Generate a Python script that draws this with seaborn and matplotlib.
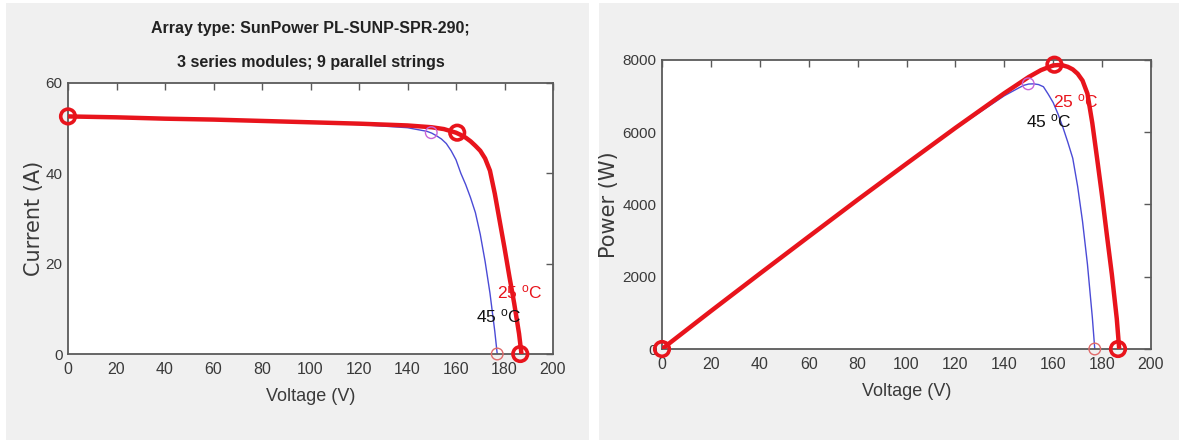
import matplotlib
matplotlib.use("Agg")
from matplotlib import pyplot as plt
from matplotlib.patches import Rectangle
import seaborn as sns

# I-V / P-V readings, 25 degC (thick red)
v_25 = [0, 20, 40, 60, 80, 100, 120, 140, 150, 155, 160, 162, 164, 166, 168, 170, 172,
        174, 176, 178, 180, 182, 184, 186, 187]
i_25 = [52.6, 52.4, 52.1, 51.9, 51.6, 51.3, 51.0, 50.6, 50.2, 49.8, 49.0, 48.5, 47.9, 47.1,
        46.1, 45.0, 43.3, 40.6, 35.5, 29.5, 23.5, 17.2, 11.2, 4.5, 0]
p_25 = [0, 1050, 2085, 3110, 4130, 5130, 6120, 7080, 7530, 7720, 7850, 7860, 7850, 7810,
        7740, 7620, 7430, 7070, 6250, 5250, 4230, 3130, 2060, 840, 0]

# 45 degC (thin blue)
v_45 = [0, 20, 40, 60, 80, 100, 120, 140, 146, 148, 150, 152, 154, 156, 158, 160, 162,
        164, 166, 168, 170, 172, 174, 176, 177]
i_45 = [52.8, 52.5, 52.2, 51.9, 51.6, 51.2, 50.8, 50.1, 49.5, 49.3, 48.9, 48.3, 47.6, 46.6,
        45.0, 43.0, 40.0, 37.5, 34.6, 31.3, 26.5, 20.5, 13.5, 5.0, 0]
p_45 = [0, 1050, 2090, 3115, 4130, 5120, 6100, 7010, 7230, 7300, 7335, 7340, 7320, 7260,
        7050, 6820, 6500, 6130, 5720, 5280, 4500, 3530, 2350, 880, 0]

# marked points (Isc / MPP / Voc)
mark_v_25 = [0, 160.5, 186.5]
mark_i_25 = [52.6, 49.0, 0]
mark_p_25 = [0, 7870, 0]
mark_v_45 = [149.8, 177]
mark_i_45 = [49.0, 0]
mark_p_45 = [7340, 0]

title_lines = ["Array type: SunPower PL-SUNP-SPR-290;", "3 series modules; 9 parallel strings"]
x_ticks = list(range(0, 201, 20))
i_ticks = [0, 20, 40, 60]
p_ticks = [0, 2000, 4000, 6000, 8000]

sns.set_theme(style="white")
plt.rcParams["font.family"] = ["Liberation Sans Narrow", "Liberation Sans", "DejaVu Sans"]
plt.rcParams["mathtext.fontset"] = "custom"
plt.rcParams["mathtext.rm"] = "Liberation Sans"

RED = "#e8141c"
BLUE = "#4b4bd6"
TXT = "#3a3a3a"
SPINE = "#5a5a5a"
BG = "#f0f0f0"

fig = plt.figure(figsize=(11.79, 4.4), dpi=100)
fig.patch.set_facecolor("white")
fig.patches.append(Rectangle((6 / 1179, 0), 583 / 1179, 437 / 440, transform=fig.transFigure,
                             facecolor=BG, edgecolor="none", zorder=-10))
fig.patches.append(Rectangle((599 / 1179, 0), 580 / 1179, 437 / 440, transform=fig.transFigure,
                             facecolor=BG, edgecolor="none", zorder=-10))

ax1 = fig.add_axes([68 / 1179, 86 / 440, 485 / 1179, 271 / 440])
ax2 = fig.add_axes([662 / 1179, 91 / 440, 489 / 1179, 289 / 440])


def draw_panel(ax, y25, y45, my25, my45):
    sns.lineplot(x=v_45, y=y45, ax=ax, color=BLUE, lw=1.0, sort=False, zorder=2)
    sns.lineplot(x=v_25, y=y25, ax=ax, color=RED, lw=3.2, sort=False, zorder=3)
    sns.scatterplot(x=mark_v_45, y=my45, ax=ax, s=70, marker="o", facecolor="none",
                    edgecolor=["#c864d8", "#e06a6a"], linewidth=1.0, zorder=4, clip_on=False)
    sns.scatterplot(x=mark_v_25, y=my25, ax=ax, s=110, marker="o", facecolor="none",
                    edgecolor=RED, linewidth=2.6, zorder=5, clip_on=False)


def style_axes(ax, yticks, ylabel):
    ax.set_facecolor("white")
    ax.set_xlim(0, 200)
    ax.set_ylim(yticks[0], yticks[-1])
    ax.set_xticks(x_ticks)
    ax.set_yticks(yticks)
    ax.tick_params(direction="in", length=5, width=1, color=SPINE, top=True, right=True,
                   labelcolor=TXT)
    ax.tick_params(axis="x", pad=6, labelsize=11.5)
    ax.tick_params(axis="y", pad=4, labelsize=11)
    for s in ax.spines.values():
        s.set_color(SPINE)
        s.set_linewidth(1.3)
    ax.set_xlabel("Voltage (V)", fontsize=13, color=TXT, labelpad=8)
    ax.set_ylabel(ylabel, fontsize=15, color=TXT, family=["DejaVu Sans"])


draw_panel(ax1, i_25, i_45, mark_i_25, mark_i_45)
style_axes(ax1, i_ticks, "Current (A)")
ax1.yaxis.set_label_coords(-0.05, 0.5)
ax1.text(177, 12.4, r"25 $\mathregular{^o}$C", color=RED, fontsize=12.5)
ax1.text(168.2, 7.1, r"45 $\mathregular{^o}$C", color="#111111", fontsize=12.5)
ax1.text(0.5, 1.0 + 54 / 271, title_lines[0], transform=ax1.transAxes, ha="center",
         va="center", fontsize=11.5, fontweight="bold", color="#222222")
ax1.text(0.5, 1.0 + 20 / 271, title_lines[1], transform=ax1.transAxes, ha="center",
         va="center", fontsize=11.5, fontweight="bold", color="#222222")

draw_panel(ax2, p_25, p_45, mark_p_25, mark_p_45)
style_axes(ax2, p_ticks, "Power (W)")
ax2.yaxis.set_label_coords(-0.088, 0.5)
ax2.text(160, 6700, r"25 $\mathregular{^o}$C", color=RED, fontsize=12.5)
ax2.text(148.9, 6145, r"45 $\mathregular{^o}$C", color="#111111", fontsize=12.5)

fig.savefig("out.png", dpi=100)
